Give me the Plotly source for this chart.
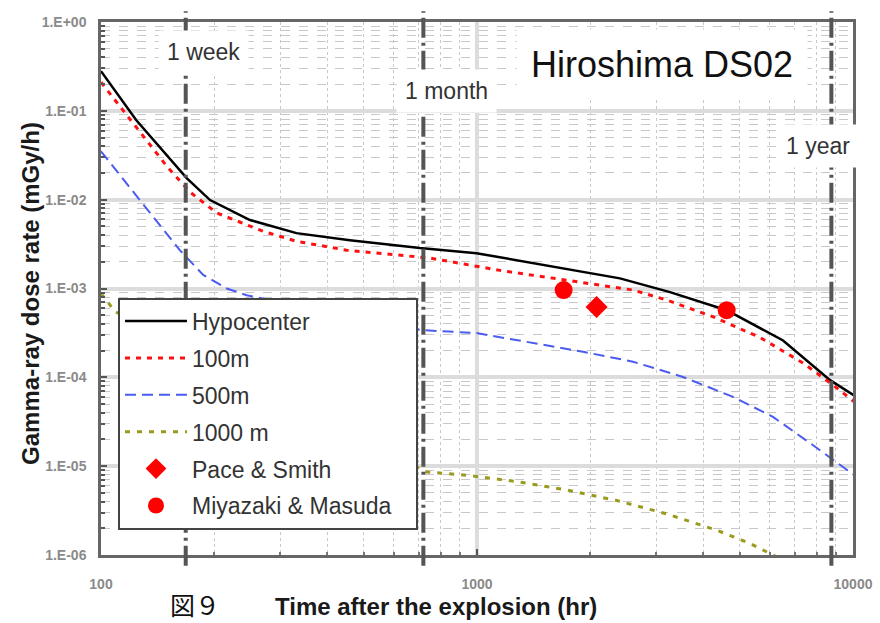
import plotly.graph_objects as go

# dose rate curves (hours, mGy/h)
hypo_t = [100, 124, 169, 195, 249, 331, 459, 705, 997, 1663, 2400, 3260, 4613, 6516, 8690, 10560]
hypo_d = [0.28, 0.0788, 0.0175, 0.0099, 0.0059, 0.0042, 0.0035, 0.00285, 0.0025, 0.0017,
          0.0013, 0.00091, 0.00057, 0.00026, 0.000093, 0.000055]

m100_t = [100, 124, 150, 172, 203, 270, 331, 450, 750, 1151, 1733, 2602, 3197, 4250, 5665, 7365, 8850, 10450]
m100_d = [0.21, 0.066, 0.0235, 0.0123, 0.0071, 0.0044, 0.0034, 0.0027, 0.0022, 0.0016, 0.00124,
          0.00096, 0.00074, 0.00048, 0.00028, 0.000145, 0.000082, 0.000047]

m500_t = [100, 115, 122, 144, 162, 187, 216, 244, 713, 997, 1409, 1915, 2600, 3530, 4797, 6125, 7687, 8850, 10640]
m500_d = [0.035, 0.0166, 0.0119, 0.0050, 0.0027, 0.00142, 0.0010, 0.00084, 0.00034, 0.000315, 0.000243,
          0.000194, 0.00015, 0.000101, 0.0000603, 0.0000359, 0.0000182, 0.0000117, 0.0000067]

m1000_t = [100, 109, 735, 939, 1276, 1733, 2355, 3197, 4340, 5321, 6270]
m1000_d = [0.00088, 0.00055, 8.6e-6, 7.9e-6, 6.7e-6, 5.4e-6, 4.1e-6, 2.9e-6, 1.9e-6, 1.35e-6, 9.5e-7]

pace_t = [2080]
pace_d = [6.2e-4]
miya_t = [1700, 4613]
miya_d = [9.6e-4, 5.7e-4]

milestone_hours = [168, 720, 8760]
milestone_labels = ["1 week", "1 month", "1 year"]

x_ticks = [100, 1000, 10000]
x_ticktext = ["100", "1000", "10000"]
y_ticks = [1, 0.1, 0.01, 0.001, 0.0001, 0.00001, 0.000001]
y_ticktext = ["1.E+00", "1.E-01", "1.E-02", "1.E-03", "1.E-04", "1.E-05", "1.E-06"]

FONT = "Liberation Sans, Arial, sans-serif"

fig = go.Figure()
fig.add_trace(go.Scatter(x=hypo_t, y=hypo_d, mode="lines", name="Hypocenter", legendgroup="a",
                         line=dict(color="black", width=2.5)))
fig.add_trace(go.Scatter(x=m100_t, y=m100_d, mode="lines", name="100m", legendgroup="b",
                         line=dict(color="#ff1010", width=3, dash="5px,6px")))
fig.add_trace(go.Scatter(x=m500_t, y=m500_d, mode="lines", name="500m", legendgroup="c",
                         line=dict(color="#4a5cf0", width=2, dash="11px,6px")))
fig.add_trace(go.Scatter(x=m1000_t, y=m1000_d, mode="lines", name="1000 m", legendgroup="d",
                         line=dict(color="#9a9a1e", width=3, dash="5px,7px")))
fig.add_trace(go.Scatter(x=pace_t, y=pace_d, mode="markers", name="Pace & Smith", legendgroup="e",
                         marker=dict(symbol="diamond", color="red", size=17)))
fig.add_trace(go.Scatter(x=miya_t, y=miya_d, mode="markers", name="Miyazaki & Masuda&nbsp;&nbsp;&nbsp;",
                         legendgroup="f", marker=dict(symbol="circle", color="red", size=18)))

for h in milestone_hours:
    fig.add_shape(type="line", xref="x", yref="paper", x0=h, x1=h, y0=-0.02, y1=1.02,
                  line=dict(color="#555555", width=4, dash="20px,5px,3px,5px"), layer="above")

label_pos = [(0.136, 0.944), (0.46, 0.871), (0.953, 0.768)]
for txt, (px, py) in zip(milestone_labels, label_pos):
    fig.add_annotation(x=px, y=py, xref="paper", yref="paper", text=txt, showarrow=False,
                       xanchor="center", yanchor="middle",
                       font=dict(family=FONT, size=23, color="#333333"),
                       bgcolor="white", borderpad=8)

fig.add_annotation(x=0.746, y=0.921, xref="paper", yref="paper", text="Hiroshima DS02",
                   showarrow=False, xanchor="center", yanchor="middle",
                   font=dict(family=FONT, size=36, color="#111111"),
                   bgcolor="white", borderpad=14)
fig.add_annotation(x=0.125, y=-0.092, xref="paper", yref="paper", text="図９",
                   showarrow=False, xanchor="center", yanchor="middle",
                   font=dict(family="Noto Sans CJK JP", size=25, color="#111111"))
# axis titles placed as annotations so they sit where the original has them
fig.add_annotation(x=0.445, y=-0.096, xref="paper", yref="paper", text="Time after the explosion (hr)",
                   showarrow=False, xanchor="center", yanchor="middle",
                   font=dict(family=FONT, size=24, color="#1a1a1a", weight="bold"))
fig.add_annotation(x=-0.093, y=0.49, xref="paper", yref="paper", text="Gamma-ray dose rate (mGy/h)",
                   showarrow=False, xanchor="center", yanchor="middle", textangle=-90,
                   font=dict(family=FONT, size=24, color="#1a1a1a", weight="bold"))

axis_common = dict(
    type="log", showline=True, linecolor="#666666", linewidth=2.5, mirror=True,
    showgrid=True, gridcolor="#dcdcdc", gridwidth=4, automargin=False,
    ticks="inside", ticklen=6, tickcolor="#555555", tickwidth=2,
    tickfont=dict(family=FONT, size=14, color="#8a8a8a", weight="bold"),
    zeroline=False,
)

fig.update_xaxes(axis_common, range=[2, 4], tickvals=x_ticks, ticktext=x_ticktext,
                 ticklabelstandoff=14,
                 minor=dict(dtick="D1", showgrid=True, gridcolor="#c8c8c8", griddash="dot",
                            gridwidth=1, ticks="inside", ticklen=3, tickcolor="#777777"))
fig.update_yaxes(axis_common, range=[-6, 0], tickvals=y_ticks, ticktext=y_ticktext,
                 ticklabelstandoff=9,
                 minor=dict(dtick="D1", showgrid=True, gridcolor="#c8c8c8", griddash="dash",
                            gridwidth=1, ticks="inside", ticklen=4, tickcolor="#555555"))

fig.update_layout(
    width=880, height=623,
    margin=dict(l=101, r=27, t=22, b=68),
    paper_bgcolor="white", plot_bgcolor="white",
    legend=dict(x=0.0226, y=0.483, xanchor="left", yanchor="top",
                bgcolor="white", bordercolor="#444444", borderwidth=2,
                font=dict(family=FONT, size=23, color="#333333"),
                itemwidth=62, tracegroupgap=4, traceorder="grouped"),
    showlegend=True,
)

# the page body has a default 8px margin; drop it so the figure sits at the window's corner
fig.write_html("out.html", config={"displayModeBar": False},
               post_script="document.body.style.margin='0';")
